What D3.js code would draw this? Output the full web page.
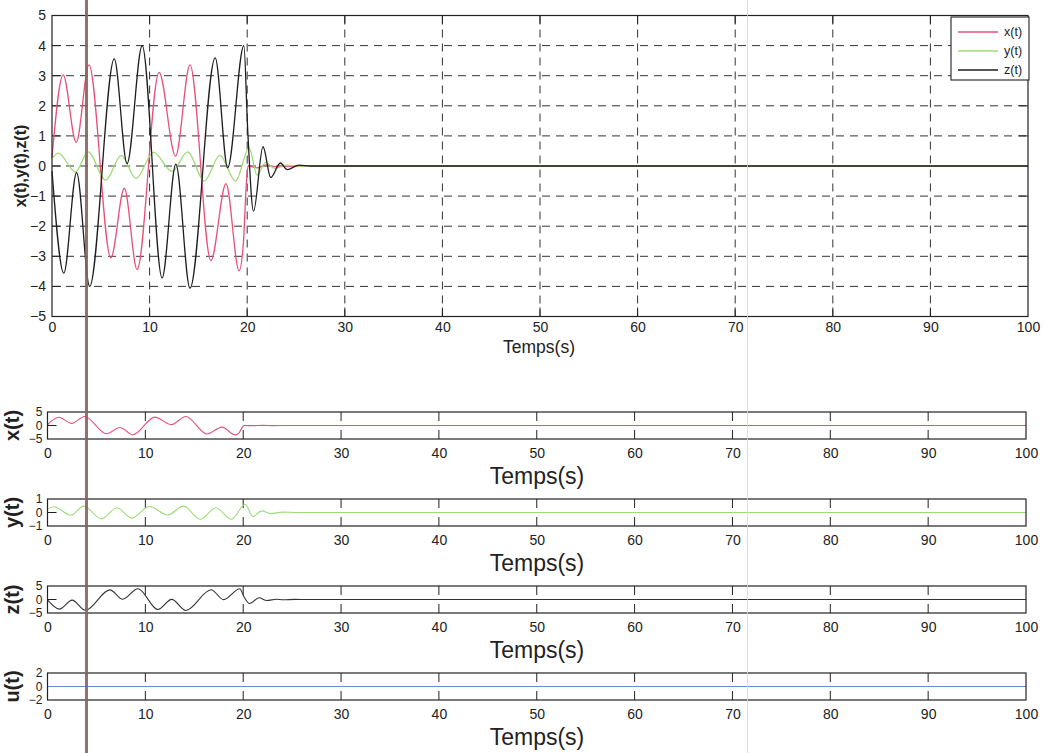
<!DOCTYPE html>
<html>
<head>
<meta charset="utf-8">
<script src="https://cdn.jsdelivr.net/npm/d3@7"></script>
<style>
  html, body { margin: 0; padding: 0; background: #fff; }
  svg { display: block; }
</style>
</head>
<body>
<svg id="chart" width="1050" height="753"></svg>
<script>
// State trajectories of the controlled system (time in seconds)
const xTime = [0, 1.14, 2.48, 3.79, 6.03, 7.41, 8.72, 10.97, 12.66, 14.14, 16.28, 17.83, 19.17, 19.6, 19.95, 20.1, 21.0, 22.0, 23.0, 24.5, 100];
const xVal  = [0.28, 3.03, 0.78, 3.36, -3.05, -0.74, -3.44, 3.11, 0.33, 3.36, -3.14, -0.59, -3.48, -2.6, -0.4, 0.0, -0.06, 0.04, -0.03, 0, 0];

const yTime = [0, 0.65, 2.4, 3.7, 5.5, 7.1, 8.6, 10.4, 12.3, 13.9, 15.6, 17.2, 18.8, 20.2, 21.0, 21.9, 22.8, 24.0, 25.5, 100];
const yVal  = [0.25, 0.43, -0.2, 0.47, -0.47, 0.35, -0.42, 0.45, -0.18, 0.47, -0.5, 0.35, -0.5, 0.6, -0.3, 0.12, -0.08, 0.03, 0, 0];

const zTime = [0, 1.21, 2.52, 3.86, 6.38, 7.69, 9.24, 11.28, 12.69, 14.14, 16.72, 18.0, 19.66, 20.05, 20.65, 21.62, 22.41, 23.4, 24.1, 25.3, 26.5, 100];
const zVal  = [-0.17, -3.56, -0.22, -4.0, 3.56, 0.08, 4.0, -3.72, 0.06, -4.06, 3.59, -0.06, 4.0, 1.2, -1.5, 0.64, -0.38, 0.1, -0.12, 0.03, 0, 0];

// Control input
const uTime = [0, 20, 100];
const uVal  = [0, 0, 0];

// Axis ticks and labels
const timeTicks = [0, 10, 20, 30, 40, 50, 60, 70, 80, 90, 100];
const mainYTicks = [-5, -4, -3, -2, -1, 0, 1, 2, 3, 4, 5];
const seriesNames = ["x(t)", "y(t)", "z(t)"];
const seriesColors = ["#e8507a", "#9ddb78", "#1e1e1e"];
const panelLabels = ["x(t)", "y(t)", "z(t)", "u(t)"];
const panelTicks = [[-5, 0, 5], [-1, 0, 1], [-5, 0, 5], [-2, 0, 2]];
const panelColors = ["#e8507a", "#9ddb78", "#333333", "#6a88d8"];
const mainXLabel = "Temps(s)";
const mainYLabel = "x(t),y(t),z(t)";

const FONT = "'Liberation Sans', Arial, sans-serif";
const INK = "#222";
const fmt = d3.format("d");

const svg = d3.select("#chart");

function toPoints(ts, vs) { return ts.map((t, i) => [t, vs[i]]); }
const series = [toPoints(xTime, xVal), toPoints(yTime, yVal), toPoints(zTime, zVal)];
const uSeries = toPoints(uTime, uVal);

function styleAxisText(g, size) {
  g.attr("font-family", null).attr("font-size", null);
  g.selectAll("text").attr("font-family", FONT).attr("font-size", size).attr("fill", INK);
  g.select(".domain").remove();
}

// ---------- Main panel ----------
const M = { left: 52, right: 1028, top: 15.5, bottom: 316.5 };
const xMain = d3.scaleLinear().domain([0, 100]).range([M.left, M.right]);
const yMain = d3.scaleLinear().domain([-5, 5]).range([M.bottom, M.top]);

const main = svg.append("g");

// dashed grid
main.append("g").selectAll("line")
  .data(timeTicks.slice(1, -1)).join("line")
  .attr("x1", d => xMain(d)).attr("x2", d => xMain(d))
  .attr("y1", M.top).attr("y2", M.bottom)
  .attr("stroke", "#333").attr("stroke-width", 1).attr("stroke-dasharray", "8,6");
main.append("g").selectAll("line")
  .data(mainYTicks.slice(1, -1)).join("line")
  .attr("y1", d => yMain(d)).attr("y2", d => yMain(d))
  .attr("x1", M.left).attr("x2", M.right)
  .attr("stroke", "#333").attr("stroke-width", 1).attr("stroke-dasharray", "8,6");

// inward ticks
const tickLen = 9;
const mt = main.append("g").attr("stroke", INK).attr("stroke-width", 1);
timeTicks.slice(1, -1).forEach(t => {
  mt.append("line").attr("x1", xMain(t)).attr("x2", xMain(t)).attr("y1", M.bottom).attr("y2", M.bottom - tickLen);
  mt.append("line").attr("x1", xMain(t)).attr("x2", xMain(t)).attr("y1", M.top).attr("y2", M.top + tickLen);
});
mainYTicks.slice(1, -1).forEach(v => {
  mt.append("line").attr("y1", yMain(v)).attr("y2", yMain(v)).attr("x1", M.left).attr("x2", M.left + tickLen);
  mt.append("line").attr("y1", yMain(v)).attr("y2", yMain(v)).attr("x1", M.right).attr("x2", M.right - tickLen);
});

// curves
const lineMain = d3.line().x(d => xMain(d[0])).y(d => yMain(d[1])).curve(d3.curveMonotoneX);
series.forEach((s, i) => {
  main.append("path").datum(s)
    .attr("d", lineMain).attr("fill", "none")
    .attr("stroke", seriesColors[i]).attr("stroke-width", 1.3)
    .attr("stroke-linejoin", "round");
});

// frame
main.append("rect")
  .attr("x", M.left).attr("y", M.top)
  .attr("width", M.right - M.left).attr("height", M.bottom - M.top)
  .attr("fill", "none").attr("stroke", INK).attr("stroke-width", 1.2);

// tick labels
main.append("g").attr("transform", `translate(0,${M.bottom})`)
  .call(d3.axisBottom(xMain).tickValues(timeTicks).tickFormat(fmt).tickSize(0).tickPadding(6))
  .call(g => styleAxisText(g, 14));
main.append("g").attr("transform", `translate(${M.left},0)`)
  .call(d3.axisLeft(yMain).tickValues(mainYTicks).tickFormat(fmt).tickSize(0).tickPadding(6))
  .call(g => styleAxisText(g, 14));

// axis titles
main.append("text").attr("x", 539).attr("y", 353)
  .attr("text-anchor", "middle").attr("font-family", FONT).attr("font-size", 17.5).attr("fill", INK)
  .text(mainXLabel);
main.append("text").attr("transform", `translate(26,${(M.top + M.bottom) / 2}) rotate(-90)`)
  .attr("text-anchor", "middle").attr("font-family", FONT).attr("font-size", 16)
  .attr("font-weight", "bold").attr("fill", INK)
  .text(mainYLabel);

// legend
const L = { x: 951, y: 17, w: 78, h: 63 };
const legend = main.append("g");
legend.append("rect").attr("x", L.x).attr("y", L.y).attr("width", L.w).attr("height", L.h)
  .attr("fill", "#fff").attr("stroke", INK).attr("stroke-width", 1.1);
seriesNames.forEach((name, i) => {
  const ly = L.y + 15 + i * 19;
  legend.append("line").attr("x1", L.x + 7).attr("x2", L.x + 47).attr("y1", ly).attr("y2", ly)
    .attr("stroke", seriesColors[i]).attr("stroke-width", 1.4);
  legend.append("text").attr("x", L.x + 53).attr("y", ly).attr("dy", "0.35em")
    .attr("font-family", FONT).attr("font-size", 12.5).attr("fill", INK).text(name);
});

// ---------- Stacked panels ----------
const P = { left: 47.5, right: 1026, height: 27 };
const panelTops = [412, 499, 586, 673];
const xPanel = d3.scaleLinear().domain([0, 100]).range([P.left, P.right]);
const panelData = [series[0], series[1], series[2], uSeries];

panelData.forEach((data, i) => {
  const top = panelTops[i];
  const bottom = top + P.height;
  const ticks = panelTicks[i];
  const yP = d3.scaleLinear().domain([ticks[0], ticks[2]]).range([bottom, top]);
  const g = svg.append("g");

  // inward ticks
  const tg = g.append("g").attr("stroke", INK).attr("stroke-width", 1);
  timeTicks.slice(1, -1).forEach(t => {
    tg.append("line").attr("x1", xPanel(t)).attr("x2", xPanel(t)).attr("y1", bottom).attr("y2", bottom - tickLen);
    tg.append("line").attr("x1", xPanel(t)).attr("x2", xPanel(t)).attr("y1", top).attr("y2", top + tickLen);
  });
  tg.append("line").attr("x1", P.left).attr("x2", P.left + tickLen).attr("y1", yP(0)).attr("y2", yP(0));
  tg.append("line").attr("x1", P.right).attr("x2", P.right - tickLen).attr("y1", yP(0)).attr("y2", yP(0));

  const line = d3.line().x(d => xPanel(d[0])).y(d => yP(d[1])).curve(d3.curveMonotoneX);
  g.append("path").datum(data).attr("d", line).attr("fill", "none")
    .attr("stroke", panelColors[i]).attr("stroke-width", 1.1);

  g.append("rect").attr("x", P.left).attr("y", top)
    .attr("width", P.right - P.left).attr("height", P.height)
    .attr("fill", "none").attr("stroke", INK).attr("stroke-width", 1.2);

  g.append("g").attr("transform", `translate(0,${bottom})`)
    .call(d3.axisBottom(xPanel).tickValues(timeTicks).tickFormat(fmt).tickSize(0).tickPadding(9))
    .call(a => styleAxisText(a, 14));
  g.append("g").attr("transform", `translate(${P.left},0)`)
    .call(d3.axisLeft(yP).tickValues(ticks).tickFormat(fmt).tickSize(0).tickPadding(5))
    .call(a => styleAxisText(a, 12));

  g.append("text").attr("x", 537).attr("y", bottom + 45)
    .attr("text-anchor", "middle").attr("font-family", FONT).attr("font-size", 23).attr("fill", INK)
    .text(mainXLabel);
  g.append("text").attr("transform", `translate(19,${top + P.height / 2}) rotate(-90)`)
    .attr("text-anchor", "middle").attr("font-family", FONT).attr("font-size", 20)
    .attr("font-weight", "bold").attr("fill", INK)
    .text(panelLabels[i]);
});

// vertical fold marks across the sheet
const foldLines = [{ x: 86.5, w: 3, c: "rgb(132,100,95)", o: 0.9 }, { x: 747.5, w: 1, c: "rgb(225,212,212)", o: 0.8 }];
svg.append("g").selectAll("line").data(foldLines).join("line")
  .attr("x1", d => d.x).attr("x2", d => d.x).attr("y1", 0).attr("y2", 753)
  .attr("stroke", d => d.c).attr("stroke-width", d => d.w).attr("opacity", d => d.o);
</script>
</body>
</html>
